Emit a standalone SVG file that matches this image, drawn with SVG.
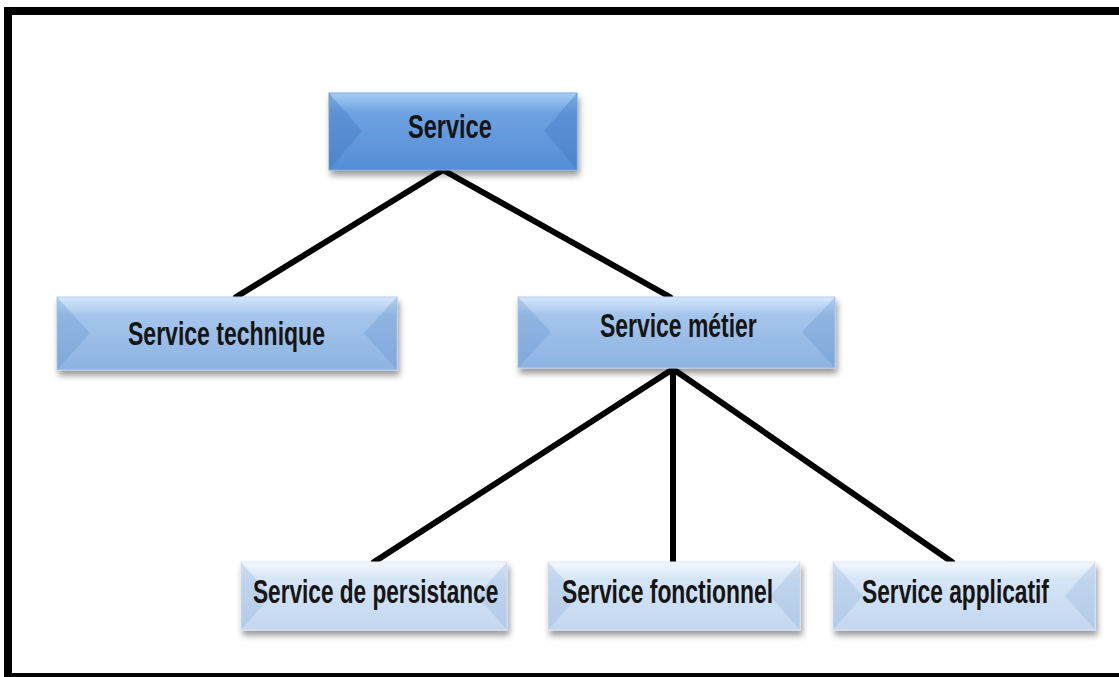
<svg xmlns="http://www.w3.org/2000/svg" width="1119" height="677" viewBox="0 0 1119 677">
  <defs>
    <filter id="shadow" x="-10%" y="-20%" width="120%" height="150%">
      <feDropShadow dx="2" dy="5" stdDeviation="3" flood-color="#000" flood-opacity="0.4"/>
    </filter>
    <linearGradient id="g1" x1="0" y1="0" x2="0" y2="1">
      <stop offset="0" stop-color="#a8cdf5"/>
      <stop offset="0.25" stop-color="#6ea2e2"/>
      <stop offset="1" stop-color="#558ed5"/>
    </linearGradient>
    <linearGradient id="g2" x1="0" y1="0" x2="0" y2="1">
      <stop offset="0" stop-color="#d6e8fb"/>
      <stop offset="0.25" stop-color="#a5c5ec"/>
      <stop offset="1" stop-color="#8db3e2"/>
    </linearGradient>
    <linearGradient id="g3" x1="0" y1="0" x2="0" y2="1">
      <stop offset="0" stop-color="#f3f8fe"/>
      <stop offset="0.25" stop-color="#d6e5f6"/>
      <stop offset="1" stop-color="#c3d7f0"/>
    </linearGradient>
  </defs>
  <style>
    .frame { fill: none; stroke: #000; stroke-width: 8; }
    .conn { stroke: #000; stroke-width: 6; stroke-linecap: round; fill: none; }
    .box1 { fill: url(#g1); stroke: #7aa7e0; stroke-width: 1; }
    .box2 { fill: url(#g2); stroke: #b4cfee; stroke-width: 1; }
    .box3 { fill: url(#g3); stroke: #dde9f7; stroke-width: 1; }
    .side1 { fill: #3f74bb; opacity: 0.35; }
    .side2 { fill: #5f8cc8; opacity: 0.28; }
    .side3 { fill: #8eaed8; opacity: 0.3; }
    .label { font-family: "Liberation Sans", Arial, sans-serif; font-weight: bold; font-size: 34px; fill: #151515; }
  </style>

  <rect class="frame" x="8" y="11" width="1125" height="666"/>

  <g id="connectors">
    <line class="conn" x1="443" y1="170" x2="236" y2="297"/>
    <line class="conn" x1="443" y1="170" x2="670" y2="297"/>
    <line class="conn" x1="673" y1="369" x2="374" y2="562"/>
    <line class="conn" x1="673" y1="369" x2="673" y2="562"/>
    <line class="conn" x1="673" y1="369" x2="952" y2="562"/>
  </g>

  <g id="service">
    <rect class="box1" x="329" y="93" width="248" height="77" filter="url(#shadow)"/>
    <polygon class="side1" points="329,93 362,131 329,170"/>
    <polygon class="side1" points="577,93 544,131 577,170"/>
    <text class="label" transform="translate(408,138) scale(0.67,1)" textLength="125" lengthAdjust="spacingAndGlyphs">Service</text>
  </g>

  <g id="service-technique">
    <rect class="box2" x="57" y="297" width="340" height="73" filter="url(#shadow)"/>
    <polygon class="side2" points="57,297 90,333 57,370"/>
    <polygon class="side2" points="397,297 364,333 397,370"/>
    <text class="label" transform="translate(128,345) scale(0.67,1)" textLength="294" lengthAdjust="spacingAndGlyphs">Service technique</text>
  </g>

  <g id="service-metier">
    <rect class="box2" x="518" y="297" width="317" height="71" filter="url(#shadow)"/>
    <polygon class="side2" points="518,297 551,332 518,368"/>
    <polygon class="side2" points="835,297 802,332 835,368"/>
    <text class="label" transform="translate(600,337) scale(0.67,1)" textLength="234" lengthAdjust="spacingAndGlyphs">Service métier</text>
  </g>

  <g id="service-persistance">
    <rect class="box3" x="241" y="562" width="266" height="68" filter="url(#shadow)"/>
    <polygon class="side3" points="241,562 271,596 241,630"/>
    <polygon class="side3" points="507,562 477,596 507,630"/>
    <text class="label" transform="translate(253,603) scale(0.67,1)" textLength="366" lengthAdjust="spacingAndGlyphs">Service de persistance</text>
  </g>

  <g id="service-fonctionnel">
    <rect class="box3" x="548" y="562" width="252" height="68" filter="url(#shadow)"/>
    <polygon class="side3" points="548,562 578,596 548,630"/>
    <polygon class="side3" points="800,562 770,596 800,630"/>
    <text class="label" transform="translate(562,603) scale(0.67,1)" textLength="315" lengthAdjust="spacingAndGlyphs">Service fonctionnel</text>
  </g>

  <g id="service-applicatif">
    <rect class="box3" x="833" y="562" width="262" height="68" filter="url(#shadow)"/>
    <polygon class="side3" points="833,562 863,596 833,630"/>
    <polygon class="side3" points="1095,562 1065,596 1095,630"/>
    <text class="label" transform="translate(862,603) scale(0.67,1)" textLength="279" lengthAdjust="spacingAndGlyphs">Service applicatif</text>
  </g>
</svg>
